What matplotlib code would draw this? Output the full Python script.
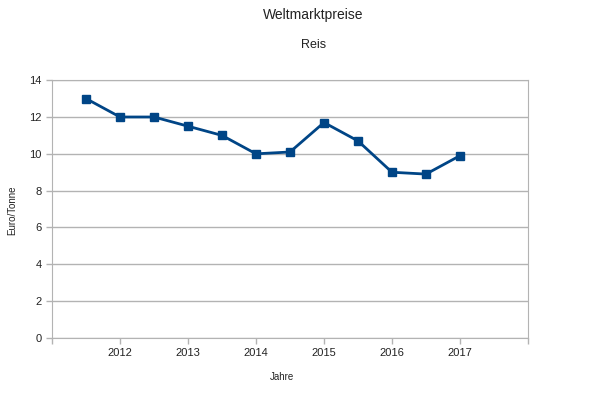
import matplotlib
matplotlib.use('Agg')
import matplotlib.pyplot as plt

# Weltmarktpreise Reis, halbjährlich
jahre = [2011.5, 2012, 2012.5, 2013, 2013.5, 2014, 2014.5, 2015, 2015.5, 2016, 2016.5, 2017]
preise = [13, 12, 12, 11.5, 11, 10, 10.1, 11.7, 10.7, 9, 8.9, 9.9]
tick_pos = [2011, 2012, 2013, 2014, 2015, 2016, 2017, 2018]
tick_lab = ['', '2012', '2013', '2014', '2015', '2016', '2017', '']

plt.rcParams['font.family'] = ['Liberation Sans', 'DejaVu Sans']

fig = plt.figure(figsize=(6, 3.93), dpi=100)
ax = fig.add_axes([0.0867, 0.14, 0.7933, 0.656])

ax.plot(jahre, preise, color='#004586', lw=2, marker='s', ms=5.8, mec='#004586', mfc='#004586', zorder=3)

ax.set_xlim(2011, 2018)
ax.set_ylim(0, 14)
ax.set_xticks(tick_pos)
ax.set_xticklabels(tick_lab)
ax.set_yticks(range(0, 15, 2))
ax.grid(axis='y', color='#b3b3b3', lw=1)
ax.set_axisbelow(True)
for s in ax.spines.values():
    s.set_color('#b3b3b3')
ax.tick_params(colors='#b3b3b3', labelcolor='#222222', labelsize=8, length=4, width=1)

fig.text(0.522, 0.962, 'Weltmarktpreise', ha='center', va='center', fontsize=10, color='#222222')
fig.text(0.522, 0.885, 'Reis', ha='center', va='center', fontsize=9, color='#222222')
fig.text(0.47, 0.04, 'Jahre', ha='center', va='center', fontsize=7, color='#222222')
fig.text(0.02, 0.465, 'Euro/Tonne', ha='center', va='center', rotation=90, fontsize=7, color='#222222')

fig.savefig('out.png', dpi=100)
